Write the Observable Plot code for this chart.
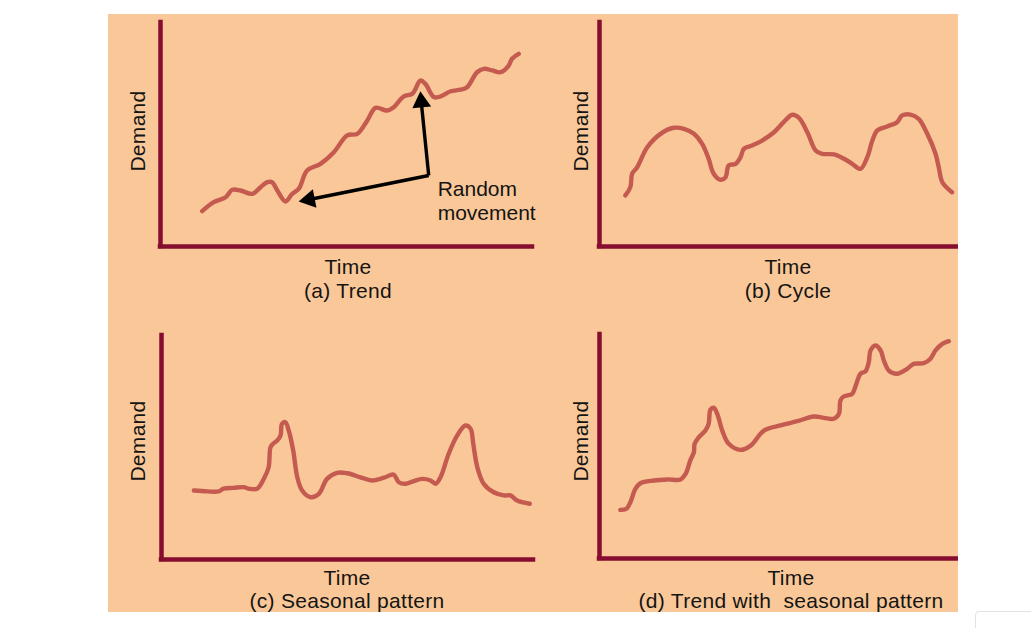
<!DOCTYPE html>
<html>
<head>
<meta charset="utf-8">
<script src="https://cdn.jsdelivr.net/npm/d3@7"></script>
<script src="https://cdn.jsdelivr.net/npm/@observablehq/plot@0.6"></script>
<style>
  html, body { margin: 0; padding: 0; background: #fff; }
  #root { position: relative; width: 1031px; height: 628px; overflow: hidden; background: #fff; }
  #peach { position: absolute; left: 108px; top: 14px; width: 850px; height: 598px; background: #FAC898; }
  .pnl { position: absolute; }
  .lbl { position: absolute; font-family: "Liberation Sans", Arial, sans-serif; font-size: 21px; color: #141414;
         white-space: pre; transform: translate(-50%, -50%); line-height: 1; letter-spacing: 0.3px; }
  .rot { transform: translate(-50%, -50%) rotate(-90deg); }
  #tab { position: absolute; left: 975px; top: 611px; width: 70px; height: 30px; border: 1px solid #e2e2e2; border-radius: 4px; background: #fff; }
</style>
</head>
<body>
<div id="root">
  <div id="peach"></div>
  <div id="tab"></div>
</div>
<script>
// ---- data (time, demand), units 0..100 of each panel's axes ----
const trend = [
  [11.2,15.8],[14.3,19.8],[17.5,22.0],[19.3,25.3],[21.5,25.0],[24.7,23.5],[26.9,26.5],[28.7,28.7],
  [30.0,28.7],[31.4,25.0],[33.6,20.1],[35.4,23.5],[37.2,25.8],[39.4,33.9],[43.0,36.9],[46.6,42.1],
  [50.2,49.6],[52.9,50.3],[55.6,56.3],[57.8,61.9],[60.9,60.7],[62.7,62.2],[65.4,67.0],[67.7,68.2],
  [69.9,74.1],[71.2,72.6],[73.5,66.7],[75.3,67.0],[78.0,69.3],[80.6,70.0],[82.4,71.1],[85.1,77.8],
  [86.9,79.3],[89.2,78.6],[91.4,77.8],[93.6,80.8],[94.5,83.8],[96.3,86.0]
];
const cycle = [
  [7.2,22.8],[8.6,26.5],[9.1,32.5],[10.5,35.4],[13.3,44.3],[17.0,50.3],[20.7,53.0],[23.5,52.5],
  [26.3,50.3],[28.6,45.8],[30.4,39.2],[31.8,32.5],[33.7,29.8],[35.1,30.9],[36.0,36.2],[37.9,36.9],
  [39.3,39.9],[40.2,43.6],[42.5,45.1],[45.3,47.3],[48.6,51.0],[51.3,55.5],[53.7,58.8],[55.5,57.5],
  [57.9,51.0],[60.2,42.9],[62.0,41.4],[65.3,41.1],[68.1,39.2],[70.4,36.9],[72.7,34.7],[74.6,39.9],
  [76.0,47.3],[77.4,51.8],[80.1,53.6],[82.9,55.5],[84.3,58.5],[86.6,58.9],[88.9,57.0],[91.3,50.3],
  [93.6,41.4],[94.5,35.4],[95.5,28.7],[98.2,24.2]
];
const seasonal = [
  [8.7,30.8],[12.3,30.4],[15.4,30.4],[16.7,31.6],[19.4,32.0],[22.1,32.3],[23.5,31.6],[25.7,31.6],
  [27.5,36.0],[28.8,41.2],[29.3,50.1],[30.0,51.7],[31.1,53.1],[32.0,55.4],[32.4,60.6],[33.3,61.3],
  [34.2,57.6],[35.4,48.7],[36.5,36.7],[37.8,30.8],[40.1,27.8],[42.3,29.3],[44.5,36.0],[47.2,38.7],
  [49.9,38.5],[53.5,36.7],[56.6,35.3],[59.8,36.5],[62.4,37.9],[63.8,34.5],[65.6,33.8],[67.8,35.0],
  [70.1,36.0],[72.3,35.3],[73.7,33.8],[75.0,36.7],[77.2,47.2],[79.5,55.4],[81.7,59.8],[83.1,58.3],
  [83.8,51.7],[84.9,41.2],[86.6,33.8],[89.3,30.0],[92.0,28.6],[93.8,28.6],[95.6,26.3],[99.0,24.9]
];
const trendSeasonal = [
  [5.8,21.7],[7.5,22.2],[8.6,25.1],[10.0,31.1],[11.4,33.6],[15.1,34.8],[18.9,35.3],[22.6,35.3],
  [24.0,37.8],[25.3,43.8],[26.3,47.5],[26.5,51.2],[27.7,54.2],[29.5,57.1],[30.4,60.1],[30.9,66.4],
  [31.8,67.3],[32.8,64.6],[34.2,57.1],[36.0,51.2],[39.3,48.5],[42.1,50.4],[45.8,57.1],[50.4,59.4],
  [55.1,61.3],[59.7,63.4],[62.5,62.8],[65.3,62.4],[66.7,64.6],[67.1,70.5],[68.0,72.3],[70.4,73.5],
  [71.3,76.8],[72.7,82.5],[74.1,83.6],[75.0,87.6],[75.5,92.9],[76.9,95.1],[78.3,92.9],[79.2,88.4],
  [80.6,83.9],[82.9,82.5],[85.7,84.7],[87.5,86.9],[90.3,87.2],[92.2,89.2],[93.6,92.9],[95.5,95.8],
  [97.3,97.0]
];
// "Random movement" arrows: start (corner) and tips
const arrowStart = [72.1, 31.7];
const arrowTips = [[70.1, 64.5], [40.0, 21.0]];
const arrowTipRotate = [-5, -101];
const annotation = "Random\nmovement";
const annotationAt = [74.5, 20.5];

const xLabel = "Time";
const yLabel = "Demand";
const captions = ["(a) Trend", "(b) Cycle", "(c) Seasonal pattern", "(d) Trend with  seasonal pattern"];

// ---- styles ----
const AXIS = "#860C30";
const LINE = "#C45A50";
const FONT = "'Liberation Sans', Arial, sans-serif";

const toObj = arr => arr.map(([t, d]) => ({t, d}));

function panel(series, box, extra = []) {
  const svg = Plot.plot({
    width: box.w, height: box.h,
    marginLeft: box.ml, marginRight: box.mr, marginTop: box.mt, marginBottom: box.mb,
    x: {domain: [0, 100], axis: null},
    y: {domain: [0, 100], axis: null},
    style: {background: "transparent", fontFamily: FONT},
    marks: [
      Plot.line(toObj(series), {x: "t", y: "d", stroke: LINE, strokeWidth: 4.4, curve: "catmull-rom",
        strokeLinejoin: "round", strokeLinecap: "round"}),
      Plot.ruleX([0], {stroke: AXIS, strokeWidth: 4.5, strokeLinecap: "square"}),
      Plot.ruleY([0], {stroke: AXIS, strokeWidth: 4.5, strokeLinecap: "square"}),
      ...extra
    ]
  });
  svg.classList.add("pnl");
  svg.style.left = box.left + "px";
  svg.style.top = box.top + "px";
  document.getElementById("root").appendChild(svg);
}

const arrowLinks = arrowTips.map((tip, i) => ({x1: arrowStart[0], y1: arrowStart[1], x2: tip[0], y2: tip[1], r: arrowTipRotate[i]}));
const annotMarks = [
  Plot.link(arrowLinks, {x1: "x1", y1: "y1", x2: "x2", y2: "y2", stroke: "#000", strokeWidth: 3.4,
    strokeLinejoin: "miter"}),
  Plot.dot(arrowLinks, {x: "x2", y: "y2", symbol: "triangle", r: 7, fill: "#000", stroke: "none", rotate: "r"}),
  Plot.text([{x: annotationAt[0], y: annotationAt[1], s: annotation}], {x: "x", y: "y", text: "s",
    textAnchor: "start", lineAnchor: "middle", lineHeight: 1.15, fontSize: 21, fill: "#141414",
    fontFamily: FONT, letterSpacing: "0.3px"})
];

panel(trend,         {left: 120, top: 14,  w: 422, h: 238, ml: 40, mr: 10, mt: 8, mb: 6}, annotMarks);
panel(cycle,         {left: 559, top: 14,  w: 399, h: 238, ml: 40, mr: 0,  mt: 8, mb: 6});
panel(seasonal,      {left: 121, top: 327, w: 422, h: 238, ml: 40, mr: 10, mt: 8, mb: 6});
panel(trendSeasonal, {left: 559, top: 326, w: 399, h: 238, ml: 40, mr: 0,  mt: 8, mb: 6});

// ---- text labels ----
const labelSpots = [
  {cx: 348, time: 266, cap: 290, dx: 137, dy: 131},
  {cx: 788, time: 266, cap: 290, dx: 580, dy: 131},
  {cx: 347, time: 577, cap: 600, dx: 137, dy: 441},
  {cx: 791, time: 577, cap: 600, dx: 580, dy: 441}
];
const root = document.getElementById("root");
function addLabel(text, x, y, rot) {
  const d = document.createElement("div");
  d.className = "lbl" + (rot ? " rot" : "");
  d.textContent = text;
  d.style.left = x + "px";
  d.style.top = y + "px";
  root.appendChild(d);
}
labelSpots.forEach((s, i) => {
  addLabel(xLabel, s.cx, s.time);
  addLabel(captions[i], s.cx, s.cap);
  addLabel(yLabel, s.dx, s.dy, true);
});
</script>
</body>
</html>
